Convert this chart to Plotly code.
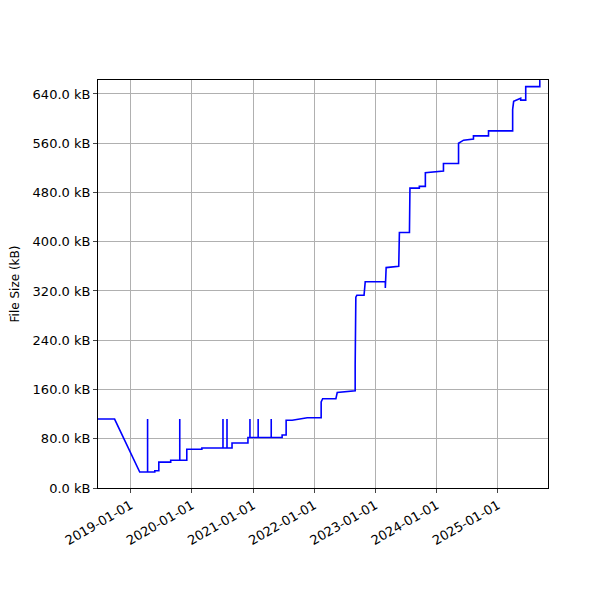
import plotly.graph_objects as go

dates = ["2018-06-20","2018-09-27","2019-02-24","2019-04-12","2019-04-12","2019-04-12","2019-04-12",
"2019-05-25","2019-05-25","2019-06-18","2019-06-18","2019-08-28","2019-08-28","2019-10-21","2019-10-21","2019-10-21",
"2019-12-02","2019-12-02","2020-03-01","2020-03-01","2020-07-05","2020-07-05","2020-07-05","2020-07-29","2020-07-29","2020-07-29",
"2020-08-28","2020-08-28","2020-12-01","2020-12-01","2020-12-13","2020-12-13","2020-12-13","2021-01-31","2021-01-31","2021-01-31",
"2021-04-19","2021-04-19","2021-04-19","2021-06-23","2021-06-23","2021-07-17","2021-07-17","2021-08-22","2021-11-20","2022-02-11",
"2022-02-11","2022-02-20","2022-05-10","2022-05-18","2022-09-02","2022-09-02","2022-09-04","2022-09-06","2022-09-12","2022-10-25","2022-11-01",
"2023-03-01","2023-03-01","2023-03-06","2023-05-20","2023-05-24","2023-07-23","2023-07-23","2023-07-26","2023-09-20","2023-09-20",
"2023-10-26","2023-10-26","2024-02-11","2024-02-11","2024-05-11","2024-05-11","2024-06-10","2024-08-08","2024-08-08","2024-08-20",
"2024-11-06","2024-11-06","2025-03-30","2025-03-30","2025-04-05","2025-05-17","2025-05-17","2025-06-16","2025-06-16","2025-09-08","2025-09-08","2025-09-12"]
sizes_kb = [112,112,26,26,112,26,26,
26,28,28,42,42,45,45,112,45,
45,63,63,65,65,112,65,65,112,65,
65,73,73,82,82,112,82,82,112,82,
82,112,82,82,86,86,110,110,114,114,
140,145,145,155,158,200,285,310,313,313,335,
335,325,358,360,415,415,440,487,487,490,
490,512,515,527,527,560,565,567,572,572,
572,580,580,615,628,633,630,630,652,652,662,662]

fig = go.Figure(go.Scatter(x=dates, y=sizes_kb, mode="lines", line=dict(color="blue", width=1.6)))
fig.update_layout(width=600, height=600, plot_bgcolor="white", paper_bgcolor="white",
    margin=dict(l=90, r=60, t=72, b=120), showlegend=False,
    font=dict(family="DejaVu Sans", size=13, color="black"))
fig.update_xaxes(range=["2018-06-20","2025-10-27"], tickformat="%Y-%m-%d", dtick="M12", tick0="2019-01-01",
    tickangle=-30, showgrid=True, gridcolor="#b0b0b0", showline=True, linecolor="black", mirror=True,
    ticks="outside", ticklen=4, automargin=False)
fig.update_yaxes(range=[0,662.7], tickvals=list(range(0,641,80)),
    ticktext=[f"{v:.1f} kB" for v in range(0,641,80)], title_text="File Size (kB)", title_font_size=12,
    showgrid=True, gridcolor="#b0b0b0", showline=True, linecolor="black", mirror=True,
    ticks="outside", ticklen=4, zeroline=False, automargin=False)
fig.write_html("out.html")
